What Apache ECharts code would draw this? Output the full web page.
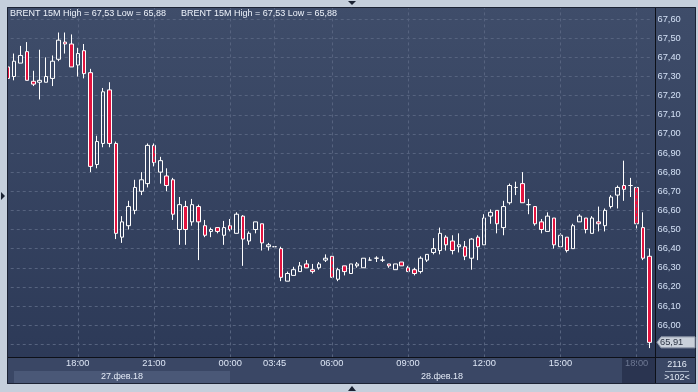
<!DOCTYPE html>
<html><head><meta charset="utf-8">
<script src="https://cdn.jsdelivr.net/npm/echarts@6/dist/echarts.min.js"></script>
<style>html,body{margin:0;padding:0;background:#c5cfdc;overflow:hidden}#c{width:698px;height:392px}</style>
</head><body><div id="c"></div>
<script>
// ---- data (15-minute candles, BRENT) ----
const times = ['15:15','15:30','15:45','16:00','16:15','16:30','16:45','17:00','17:15','17:30','17:45','18:00',
'18:15','18:30','18:45','19:00','19:15','19:30','19:45','20:00','20:15','20:30','20:45','21:00',
'21:15','21:30','21:45','22:00','22:15','22:30','22:45','23:00','23:15','23:30','23:45','00:00',
'00:15','00:30','00:45','01:00','01:15','01:30','03:45','04:00','04:15','04:30','04:45','05:00',
'05:15','05:30','05:45','06:00','06:15','06:30','06:45','07:00','07:15','07:30','07:45','08:00',
'08:15','08:30','08:45','09:00','09:15','09:30','09:45','10:00','10:15','10:30','10:45','11:00',
'11:15','11:30','11:45','12:00','12:15','12:30','12:45','13:00','13:15','13:30','13:45','14:00',
'14:15','14:30','14:45','15:00','15:15','15:30','15:45','16:00','16:15','16:30','16:45','17:00',
'17:15','17:30','17:45','18:00','18:15','18:30'];
const open  = [67.35,67.30,67.37,67.43,67.275,67.27,67.27,67.29,67.39,67.48,67.47,67.36,
67.435,67.32,66.84,66.95,67.23,66.95,66.46,66.52,66.60,66.70,66.74,66.94,
66.80,66.78,66.76,66.50,66.62,66.54,66.62,66.52,66.49,66.51,66.47,66.52,
66.48,66.57,66.44,66.50,66.53,66.41,66.41,66.40,66.23,66.26,66.28,66.32,
66.29,66.30,66.34,66.36,66.24,66.31,66.27,66.31,66.30,66.34,66.35,66.34,
66.32,66.29,66.33,66.30,66.29,66.28,66.34,66.38,66.39,66.46,66.44,66.41,
66.41,66.35,66.46,66.42,66.57,66.60,66.51,66.64,66.72,66.74,66.63,66.62,
66.54,66.49,66.56,66.41,66.46,66.40,66.54,66.56,66.48,66.54,66.52,66.62,
66.68,66.73,66.73,66.72,66.51,66.36];
const close = [67.29,67.38,67.41,67.28,67.26,67.28,67.30,67.38,67.49,67.47,67.35,67.42,
67.315,66.83,66.96,67.22,66.95,66.48,66.54,66.62,66.72,66.76,66.94,66.85,
66.86,66.73,66.58,66.63,66.50,66.63,66.54,66.47,66.50,66.49,66.51,66.50,
66.58,66.45,66.48,66.54,66.43,66.42,66.41,66.25,66.27,66.29,66.31,66.30,
66.28,66.32,66.35,66.25,66.29,66.28,66.32,66.32,66.35,66.34,66.35,66.34,
66.31,66.32,66.31,66.28,66.27,66.35,66.37,66.40,66.48,66.42,66.39,66.42,
66.36,66.45,66.41,66.56,66.59,66.53,66.62,66.73,66.72,66.64,66.63,66.53,
66.50,66.57,66.42,66.47,66.39,66.52,66.57,66.50,66.56,66.53,66.60,66.67,
66.72,66.71,66.73,66.53,66.35,65.91];
const low   = [67.28,67.28,67.37,67.28,67.25,67.18,67.27,67.25,67.38,67.42,67.35,67.30,
67.29,66.80,66.82,66.93,66.93,66.45,66.43,66.50,66.58,66.68,66.72,66.83,
66.74,66.70,66.55,66.42,66.42,66.52,66.34,66.46,66.46,66.48,66.42,66.49,
66.48,66.31,66.42,66.48,66.39,66.39,66.41,66.23,66.23,66.26,66.28,66.30,
66.27,66.29,66.33,66.25,66.23,66.26,66.27,66.30,66.30,66.34,66.33,66.33,
66.30,66.29,66.31,66.28,66.26,66.27,66.33,66.37,66.37,66.39,66.37,66.38,
66.34,66.29,66.34,66.42,66.53,66.48,66.47,66.63,66.68,66.64,66.58,66.52,
66.48,66.49,66.40,66.40,66.38,66.40,66.54,66.48,66.48,66.49,66.49,66.61,
66.61,66.65,66.67,66.49,66.34,65.88];
const high  = [67.36,67.42,67.46,67.48,67.33,67.44,67.40,67.41,67.53,67.53,67.52,67.45,
67.47,67.34,66.99,67.24,67.27,66.96,66.57,66.65,66.76,66.80,66.95,66.95,
66.88,66.82,66.77,66.67,66.65,66.66,66.63,66.55,66.51,66.51,66.545,66.555,
66.59,66.575,66.49,66.54,66.53,66.43,66.41,66.41,66.28,66.305,66.33,66.34,
66.32,66.33,66.37,66.36,66.30,66.31,66.32,66.33,66.35,66.355,66.36,66.36,
66.32,66.32,66.33,66.31,66.30,66.36,66.37,66.455,66.51,66.47,66.47,66.48,
66.44,66.455,66.47,66.58,66.605,66.60,66.65,66.74,66.75,66.80,66.66,66.62,
66.555,66.59,66.56,66.48,66.46,66.53,66.58,66.56,66.57,66.62,66.61,66.68,
66.73,66.86,66.77,66.72,66.59,66.40];
const labelTimes = ['18:00','21:00','00:00','03:45','06:00','09:00','12:00','15:00'];
const mutedIndex = 99;                 // last "18:00" drawn greyed (incomplete session)
const dateLabels = ['27.фев.18','28.фев.18'];
const titleText = 'BRENT 15M High = 67,53 Low = 65,88';
const barCount = '2116', visibleCount = '>102<';

// ---- chart ----
const FONT = '"Liberation Sans", Arial, sans-serif';
const chart = echarts.init(document.getElementById('c'), null, {renderer:'canvas'});
const candles = times.map((t,i)=>[open[i], close[i], low[i], high[i]]);
const labelIdx = times.map((t,i)=> (labelTimes.indexOf(t) >= 0 && i >= 11) ? i : -1).filter(i=>i>=0);
const fmt = v => v.toFixed(2).replace('.', ',');

const graphics = [
  // x-axis panel
  {type:'rect', id:'xpanel', shape:{x:8,y:358,width:648,height:26}, style:{fill:'#3a4765'}, z:5, silent:true},
  {type:'rect', id:'band27', shape:{x:14,y:371,width:216,height:12}, style:{fill:'#4a5877'}, z:5, silent:true},
  {type:'rect', id:'muted', shape:{x:622,y:358,width:33,height:26}, style:{fill:'#2a3450'}, z:5, silent:true},
  {type:'rect', id:'rbpanel', shape:{x:656,y:358,width:40,height:26}, style:{fill:'#3a4765'}, z:5, silent:true},
  {type:'line', id:'hline', shape:{x1:8,y1:357.5,x2:696,y2:357.5}, style:{stroke:'#0d1018',lineWidth:1}, z:6, silent:true},
  {type:'line', id:'vline', shape:{x1:655.5,y1:8,x2:655.5,y2:384}, style:{stroke:'#0d1018',lineWidth:1}, z:6, silent:true},
  {type:'text', id:'d1', x:122, y:377, style:{text:dateLabels[0], fill:'#e3eaf6', font:'9px '+FONT, align:'center', verticalAlign:'middle'}, z:7, silent:true},
  {type:'text', id:'d2', x:442, y:377, style:{text:dateLabels[1], fill:'#e3eaf6', font:'9px '+FONT, align:'center', verticalAlign:'middle'}, z:7, silent:true},
  {type:'text', id:'cnt1', x:677, y:364.5, style:{text:barCount, fill:'#e3eaf6', font:'9px '+FONT, align:'center', verticalAlign:'middle'}, z:7, silent:true},
  {type:'line', id:'cntdiv', shape:{x1:665,y1:371.5,x2:689,y2:371.5}, style:{stroke:'#9aa6bc',lineWidth:1}, z:7, silent:true},
  {type:'text', id:'cnt2', x:677, y:378, style:{text:visibleCount, fill:'#e3eaf6', font:'9px '+FONT, align:'center', verticalAlign:'middle'}, z:7, silent:true},
  // outer light frame
  {type:'rect', id:'fT', shape:{x:0,y:0,width:698,height:7}, style:{fill:'#c5cfdc'}, z:20, silent:true},
  {type:'rect', id:'fL', shape:{x:0,y:0,width:7,height:392}, style:{fill:'#c5cfdc'}, z:20, silent:true},
  {type:'rect', id:'fR', shape:{x:696,y:0,width:2,height:392}, style:{fill:'#c5cfdc'}, z:20, silent:true},
  {type:'rect', id:'fB', shape:{x:0,y:384,width:698,height:8}, style:{fill:'#c5cfdc'}, z:20, silent:true},
  {type:'rect', id:'fBorder', shape:{x:7.5,y:7.5,width:688,height:376}, style:{fill:null, stroke:'#1c2334', lineWidth:1}, z:21, silent:true},
  {type:'polygon', id:'triT', shape:{points:[[348,1],[356,1],[352,5]]}, style:{fill:'#1a2232'}, z:22, silent:true},
  {type:'polygon', id:'triB', shape:{points:[[348,391],[356,391],[352,386]]}, style:{fill:'#1a2232'}, z:22, silent:true},
  {type:'polygon', id:'triL', shape:{points:[[1,192],[1,200],[5,196]]}, style:{fill:'#1a2232'}, z:22, silent:true}
];

const option = {
  animation: false,
  backgroundColor: new echarts.graphic.LinearGradient(0,0,0,1,[
    {offset:0, color:'#3f4d6a'},{offset:1, color:'#2b3856'}]),
  textStyle: {fontFamily: FONT},
  title: [
    {text: titleText, left: 10, top: 9, padding: 0, textStyle:{color:'#eef3fb', fontSize:9, fontWeight:'normal', fontFamily:FONT}},
    {text: titleText, left: 181, top: 9, padding: 0, textStyle:{color:'#eef3fb', fontSize:9, fontWeight:'normal', fontFamily:FONT}}
  ],
  grid: {left: 4.72, width: 647.8, top: -0.45, height: 363.85, containLabel: false},
  xAxis: {
    type: 'category', data: times, boundaryGap: true, z: 10, offset: -6,
    axisLine: {show: false}, axisTick: {show: false}, splitLine: {show: false},
    axisLabel: {
      margin: 2, fontSize: 9.3, color: '#dde6f5', fontFamily: FONT,
      interval: (idx) => labelIdx.indexOf(idx) >= 0,
      formatter: (v, idx) => idx === mutedIndex ? '{m|' + v + '}' : v,
      rich: {m: {color: '#6e7893', fontSize: 9.3, fontFamily: FONT}}
    }
  },
  yAxis: {
    type: 'value', position: 'right', min: 65.8, max: 67.7, interval: 0.1, scale: true,
    axisLine: {show: false}, axisTick: {show: false},
    splitLine: {lineStyle: {color: '#56637f', type: [3, 3], width: 1}},
    axisLabel: {margin: 5, fontSize: 9.3, color: '#d3e0f5', fontFamily: FONT,
      formatter: v => (v > 67.65 || v < 65.95) ? '' : fmt(v)}
  },
  series: [
    {type: 'line', data: [], z: 1, silent: true,
     markLine: {silent: true, symbol: ['none','none'], label: {show: false},
       lineStyle: {color: '#56637f', type: [3, 3], width: 1},
       data: labelIdx.map(i => ({xAxis: i}))}},
    {type: 'candlestick', data: candles, barWidth: 4, z: 3,
     itemStyle: {color: 'rgba(0,0,0,0)', color0: '#e2133f', borderColor: '#ffffff', borderColor0: '#ffffff',
                 borderColorDoji: '#ffffff', borderWidth: 1}}
  ],
  graphic: graphics
};
chart.setOption(option);

// last-price tag placed from the y scale
const lastClose = close[close.length - 1];
const py = chart.convertToPixel({yAxisIndex: 0}, lastClose);
graphics.push(
  {type:'polygon', id:'tag', shape:{points:[[657,py],[661,py-5.5],[695,py-5.5],[695,py+5.5],[661,py+5.5]]},
   style:{fill:'#c9d0da', stroke:'#8d97a8', lineWidth:1}, z:30, silent:true},
  {type:'text', id:'tagt', x:660, y:py, style:{text:fmt(lastClose), fill:'#2c3444', font:'9.3px '+FONT, verticalAlign:'middle'}, z:31, silent:true}
);
chart.setOption({graphic: graphics});
</script>
</body></html>
